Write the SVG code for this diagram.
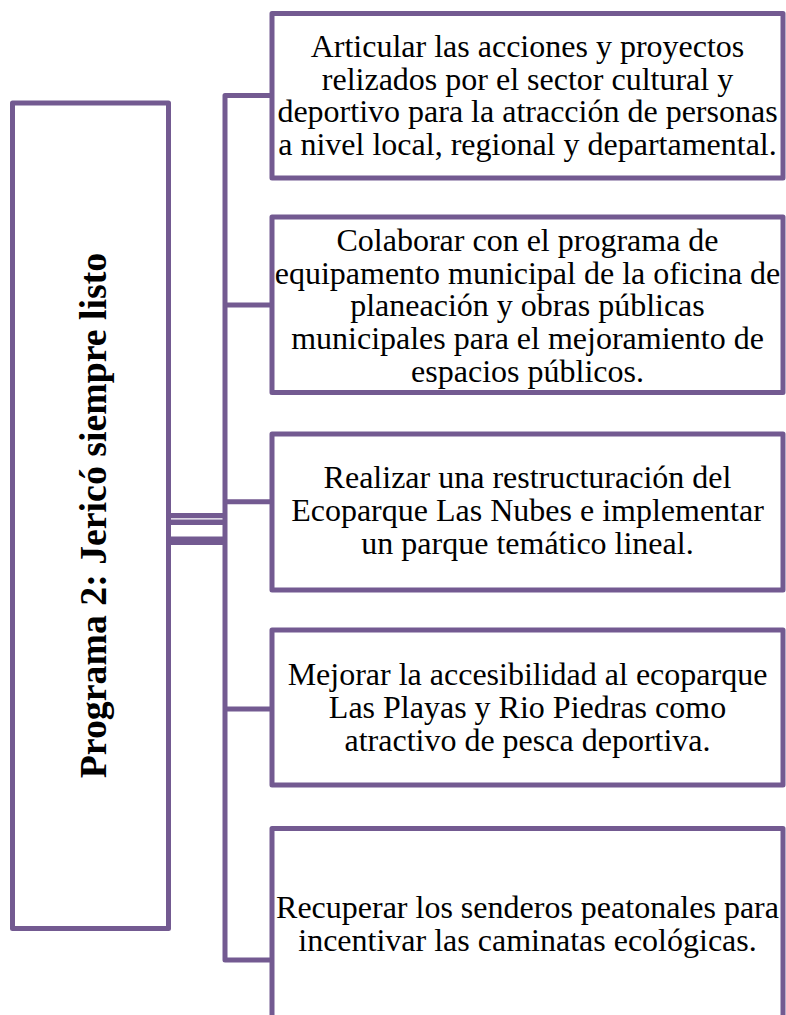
<svg xmlns="http://www.w3.org/2000/svg" width="786" height="1015" viewBox="0 0 786 1015">
<style>
.box{fill:#ffffff;stroke:#735a91;stroke-width:5;stroke-linejoin:round}
.con{fill:none;stroke:#735a91;stroke-width:5;stroke-linejoin:round}
.t{font-family:"Liberation Serif","Times New Roman",serif;font-size:32px;fill:#000;text-anchor:middle}
.tb{font-family:"Liberation Serif","Times New Roman",serif;font-size:37.8px;font-weight:bold;fill:#000;text-anchor:middle}
</style>
<rect width="786" height="1015" fill="#ffffff"/>
<g id="connectors">
<path class="con" d="M272,95.5 H225 V960 H272"/>
<path class="con" d="M225,305 H272"/>
<path class="con" d="M225,501.7 H272"/>
<path class="con" d="M225,709 H272"/>
<line class="con" x1="168.5" y1="515.6" x2="225" y2="515.6" style="stroke-width:5.4"/>
<line class="con" x1="168.5" y1="522.2" x2="225" y2="522.2" style="stroke-width:5.4"/>
<line class="con" x1="168.5" y1="540.8" x2="225" y2="540.8" style="stroke-width:8.4"/>
</g>
<g id="program">
<rect class="box" x="12.5" y="103" width="156" height="825.5"/>
<text class="tb" transform="translate(106,515.5) rotate(-90)">Programa 2: Jericó siempre listo</text>
</g>
<g id="node1">
<rect class="box" x="272" y="13.5" width="511" height="164.5"/>
<text class="t"><tspan x="527.5" y="57">Articular las acciones y proyectos</tspan><tspan x="527.5" y="89.5">relizados por el sector cultural y</tspan><tspan x="527.5" y="122">deportivo para la atracción de personas</tspan><tspan x="527.5" y="154.5">a nivel local, regional y departamental.</tspan></text>
</g>
<g id="node2">
<rect class="box" x="272" y="217" width="511" height="175.5"/>
<text class="t"><tspan x="527.5" y="251">Colaborar con el programa de</tspan><tspan x="527.5" y="283.5">equipamento municipal de la oficina de</tspan><tspan x="527.5" y="316">planeación y obras públicas</tspan><tspan x="527.5" y="349">municipales para el mejoramiento de</tspan><tspan x="527.5" y="381.5">espacios públicos.</tspan></text>
</g>
<g id="node3">
<rect class="box" x="272" y="434" width="511" height="156"/>
<text class="t"><tspan x="527.5" y="488">Realizar una restructuración del</tspan><tspan x="527.5" y="520.5">Ecoparque Las Nubes e implementar</tspan><tspan x="527.5" y="553.5">un parque temático lineal.</tspan></text>
</g>
<g id="node4">
<rect class="box" x="272" y="630" width="511" height="155"/>
<text class="t"><tspan x="527.5" y="685">Mejorar la accesibilidad al ecoparque</tspan><tspan x="527.5" y="717.5">Las Playas y Rio Piedras como</tspan><tspan x="527.5" y="750.5">atractivo de pesca deportiva.</tspan></text>
</g>
<g id="node5">
<rect class="box" x="272" y="828.5" width="511" height="280"/>
<text class="t"><tspan x="527.5" y="918">Recuperar los senderos peatonales para</tspan><tspan x="527.5" y="950.5">incentivar las caminatas ecológicas.</tspan></text>
</g>
</svg>
